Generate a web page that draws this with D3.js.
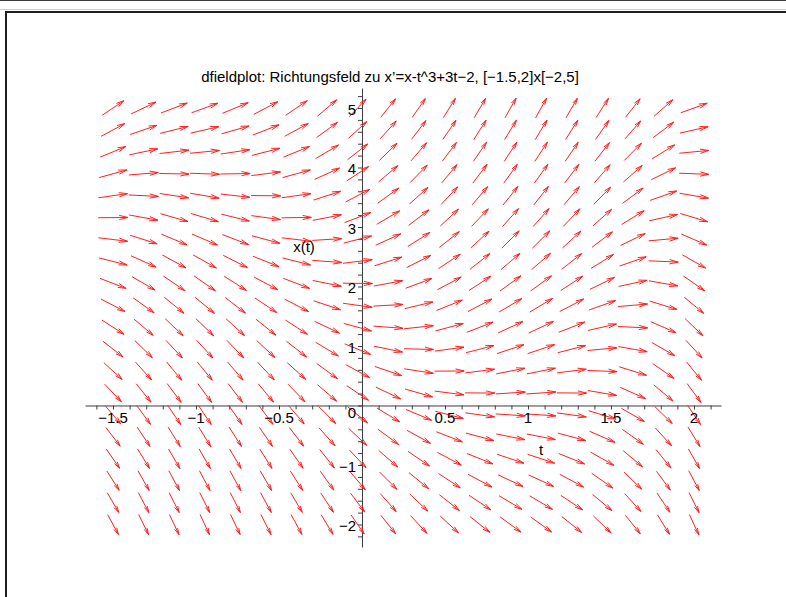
<!DOCTYPE html>
<html>
<head>
<meta charset="utf-8">
<script src="https://cdn.jsdelivr.net/npm/d3@7"></script>
<style>
  html, body { margin: 0; padding: 0; background: #fff; }
  svg { display: block; }
  text { font-family: "Liberation Sans", Arial, Helvetica, sans-serif; fill: #000; }
</style>
</head>
<body>
<svg id="chart" width="786" height="597"></svg>
<script>
// Direction field of x' = x - t^3 + 3t - 2 on [-1.5,2] x [-2,5], 20 x 20 grid
const titleText = "dfieldplot: Richtungsfeld zu x\u2019=x-t^3+3t\u22122, [\u22121.5,2]x[\u22122,5]";

const tGrid = [-1.5, -1.3158, -1.1316, -0.9474, -0.7632, -0.5789, -0.3947, -0.2105, -0.0263, 0.1579,
               0.3421, 0.5263, 0.7105, 0.8947, 1.0789, 1.2632, 1.4474, 1.6316, 1.8158, 2.0];
const xGrid = [-2, -1.6316, -1.2632, -0.8947, -0.5263, -0.1579, 0.2105, 0.5789, 0.9474, 1.3158,
               1.6842, 2.0526, 2.4211, 2.7895, 3.1579, 3.5263, 3.8947, 4.2632, 4.6316, 5];

// slopes[j][k] = x'(tGrid[k], xGrid[j])
const slopes = [
  [-5.13, -5.67, -5.95, -5.99, -5.85, -5.54, -5.12, -4.62, -4.08, -3.53, -3.01, -2.57, -2.23, -2.03, -2.02, -2.23, -2.69, -3.45, -4.54, -6.00],
  [-4.76, -5.30, -5.58, -5.62, -5.48, -5.17, -4.75, -4.25, -3.71, -3.16, -2.65, -2.20, -1.86, -1.66, -1.65, -1.86, -2.32, -3.08, -4.17, -5.63],
  [-4.39, -4.93, -5.21, -5.25, -5.11, -4.81, -4.39, -3.89, -3.34, -2.79, -2.28, -1.83, -1.49, -1.30, -1.28, -1.49, -1.95, -2.71, -3.80, -5.26],
  [-4.02, -4.56, -4.84, -4.89, -4.74, -4.44, -4.02, -3.52, -2.97, -2.42, -1.91, -1.46, -1.12, -0.93, -0.91, -1.12, -1.58, -2.34, -3.43, -4.89],
  [-3.65, -4.20, -4.47, -4.52, -4.37, -4.07, -3.65, -3.15, -2.61, -2.06, -1.54, -1.09, -0.75, -0.56, -0.55, -0.75, -1.22, -1.97, -3.07, -4.53],
  [-3.28, -3.83, -4.10, -4.15, -4.00, -3.70, -3.28, -2.78, -2.24, -1.69, -1.17, -0.72, -0.39, -0.19, -0.18, -0.38, -0.85, -1.61, -2.70, -4.16],
  [-2.91, -3.46, -3.74, -3.78, -3.63, -3.33, -2.91, -2.41, -1.87, -1.32, -0.80, -0.36, -0.02,  0.18,  0.19, -0.02, -0.48, -1.24, -2.33, -3.79],
  [-2.55, -3.09, -3.37, -3.41, -3.27, -2.96, -2.54, -2.04, -1.50, -0.95, -0.43,  0.01,  0.35,  0.55,  0.56,  0.35, -0.11, -0.87, -1.96, -3.42],
  [-2.18, -2.72, -3.00, -3.04, -2.90, -2.60, -2.18, -1.67, -1.13, -0.58, -0.07,  0.38,  0.72,  0.92,  0.93,  0.72,  0.26, -0.50, -1.59, -3.05],
  [-1.81, -2.35, -2.63, -2.68, -2.53, -2.23, -1.81, -1.31, -0.76, -0.21,  0.30,  0.75,  1.09,  1.28,  1.30,  1.09,  0.63, -0.13, -1.22, -2.68],
  [-1.44, -1.99, -2.26, -2.31, -2.16, -1.86, -1.44, -0.94, -0.39,  0.15,  0.67,  1.12,  1.46,  1.65,  1.67,  1.46,  0.99,  0.24, -0.86, -2.32],
  [-1.07, -1.62, -1.89, -1.94, -1.79, -1.49, -1.07, -0.57, -0.03,  0.52,  1.04,  1.49,  1.83,  2.02,  2.03,  1.83,  1.36,  0.60, -0.49, -1.95],
  [-0.70, -1.25, -1.52, -1.57, -1.42, -1.12, -0.70, -0.20,  0.34,  0.89,  1.41,  1.85,  2.19,  2.39,  2.40,  2.20,  1.73,  0.97, -0.12, -1.58],
  [-0.34, -0.88, -1.16, -1.20, -1.06, -0.75, -0.33,  0.17,  0.71,  1.26,  1.78,  2.22,  2.56,  2.76,  2.77,  2.56,  2.10,  1.34,  0.25, -1.21],
  [ 0.03, -0.51, -0.79, -0.83, -0.69, -0.38,  0.04,  0.54,  1.08,  1.63,  2.14,  2.59,  2.93,  3.13,  3.14,  2.93,  2.47,  1.71,  0.62, -0.84],
  [ 0.40, -0.14, -0.42, -0.47, -0.32, -0.02,  0.40,  0.90,  1.45,  2.00,  2.51,  2.96,  3.30,  3.49,  3.51,  3.30,  2.84,  2.08,  0.99, -0.47],
  [ 0.77,  0.23, -0.05, -0.10,  0.05,  0.35,  0.77,  1.27,  1.82,  2.36,  2.88,  3.33,  3.67,  3.86,  3.88,  3.67,  3.20,  2.45,  1.36, -0.11],
  [ 1.14,  0.59,  0.32,  0.27,  0.42,  0.72,  1.14,  1.64,  2.18,  2.73,  3.25,  3.70,  4.04,  4.23,  4.24,  4.04,  3.57,  2.81,  1.72,  0.26],
  [ 1.51,  0.96,  0.69,  0.64,  0.79,  1.09,  1.51,  2.01,  2.55,  3.10,  3.62,  4.06,  4.40,  4.60,  4.61,  4.41,  3.94,  3.18,  2.09,  0.63],
  [ 1.88,  1.33,  1.05,  1.01,  1.15,  1.46,  1.88,  2.38,  2.92,  3.47,  3.99,  4.43,  4.77,  4.97,  4.98,  4.77,  4.31,  3.55,  2.46,  1.00]
];

// axis ticks and labels
const tMinorTicks = d3.range(-16, 22).map(i => i / 10);
const xMinorTicks = d3.range(-11, 27).map(i => i / 5);
const tLabelValues = [-1.5, -1, -0.5, 0.5, 1, 1.5, 2];
const tLabelTexts = ["\u22121.5", "\u22121", "\u22120.5", "0.5", "1", "1.5", "2"];
const xLabelValues = [-2, -1, 1, 2, 3, 4, 5];
const xLabelTexts = ["\u22122", "\u22121", "1", "2", "3", "4", "5"];

const svg = d3.select("#chart");

// window frame
svg.append("rect").attr("x", 0).attr("y", 0).attr("width", 786).attr("height", 1).attr("fill", "#3a3a3a");
svg.append("rect").attr("x", 0).attr("y", 9).attr("width", 786).attr("height", 1).attr("fill", "#cfcfcf");
svg.append("rect").attr("x", 5).attr("y", 11).attr("width", 781).attr("height", 2).attr("fill", "#1e1e1e");
svg.append("rect").attr("x", 5).attr("y", 11).attr("width", 2).attr("height", 586).attr("fill", "#1e1e1e");

// scales: view slightly larger than the field's grid range
const xScale = d3.scaleLinear().domain([-1.6687, 2.1627]).range([85, 721]);
const yScale = d3.scaleLinear().domain([-2.3782, 5.3361]).range([547, 88]);

// field arrows
const cellW = Math.abs(xScale(tGrid[1]) - xScale(tGrid[0]));
const cellH = Math.abs(yScale(xGrid[1]) - yScale(xGrid[0]));
const pxPerT = xScale(1) - xScale(0);
const pxPerX = yScale(0) - yScale(1);
const arrowLen = 0.97;      // in grid cells
const headFrac = 0.3;
const headAngle = 14 * Math.PI / 180;

const arrows = [];
xGrid.forEach((xv, j) => {
  tGrid.forEach((tv, k) => {
    const m = slopes[j][k];
    // direction measured in grid-cell units
    let u = pxPerT / cellW, v = pxPerX * m / cellH;
    const n = Math.hypot(u, v);
    u /= n; v /= n;
    const dx = u * arrowLen * cellW, dy = -v * arrowLen * cellH;
    const cx = xScale(tv), cy = yScale(xv);
    arrows.push({x0: cx - dx / 2, y0: cy - dy / 2, x1: cx + dx / 2, y1: cy + dy / 2});
  });
});

function arrowPath(a) {
  const ang = Math.atan2(a.y1 - a.y0, a.x1 - a.x0);
  const L = Math.hypot(a.x1 - a.x0, a.y1 - a.y0) * headFrac;
  const b1x = a.x1 - L * Math.cos(ang - headAngle), b1y = a.y1 - L * Math.sin(ang - headAngle);
  const b2x = a.x1 - L * Math.cos(ang + headAngle), b2y = a.y1 - L * Math.sin(ang + headAngle);
  return `M${a.x0},${a.y0}L${a.x1},${a.y1}M${b1x},${b1y}L${a.x1},${a.y1}L${b2x},${b2y}`;
}

// axes
const xAxis = d3.axisBottom(xScale).tickValues(tMinorTicks).tickSize(4).tickSizeOuter(0).tickFormat("");
const yAxis = d3.axisLeft(yScale).tickValues(xMinorTicks).tickSize(4).tickSizeOuter(0).tickFormat("");

const gx = svg.append("g").attr("transform", `translate(0,${yScale(0)})`).call(xAxis);
const gy = svg.append("g").attr("transform", `translate(${xScale(0)},0)`).call(yAxis);
gx.selectAll("path, line").attr("stroke", "#3c3c3c");
gy.selectAll("path, line").attr("stroke", "#3c3c3c");

svg.append("g")
  .selectAll("path")
  .data(arrows)
  .join("path")
  .attr("d", arrowPath)
  .attr("fill", "none")
  .attr("stroke", "#ff2020")
  .attr("stroke-width", 1);

// tick labels
svg.append("g").selectAll("text")
  .data(tLabelValues)
  .join("text")
  .attr("x", d => xScale(d))
  .attr("y", yScale(0) + 18)
  .attr("text-anchor", "middle")
  .attr("font-size", 15)
  .text((d, i) => tLabelTexts[i]);

svg.append("g").selectAll("text")
  .data(xLabelValues)
  .join("text")
  .attr("x", xScale(0) - 6)
  .attr("y", d => yScale(d) + 7)
  .attr("text-anchor", "end")
  .attr("font-size", 15)
  .text((d, i) => xLabelTexts[i]);

svg.append("text")
  .attr("x", xScale(0) - 6).attr("y", yScale(0) + 13)
  .attr("text-anchor", "end").attr("font-size", 15).text("0");

// axis names and title
svg.append("text").attr("x", 541).attr("y", 455).attr("text-anchor", "middle").attr("font-size", 15).text("t");
svg.append("text").attr("x", 304).attr("y", 252).attr("text-anchor", "middle").attr("font-size", 15).text("x(t)");
svg.append("text").attr("x", 390).attr("y", 82).attr("text-anchor", "middle").attr("font-size", 15).text(titleText);
</script>
</body>
</html>
